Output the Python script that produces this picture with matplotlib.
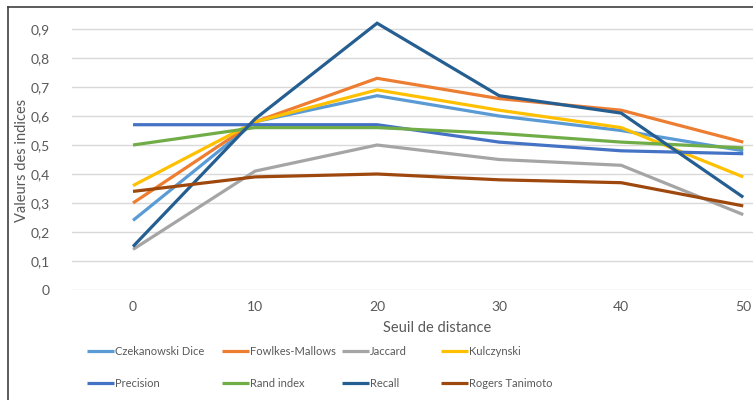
import matplotlib
matplotlib.use('Agg')
import matplotlib.pyplot as plt
from matplotlib.ticker import FuncFormatter, MultipleLocator
from matplotlib.lines import Line2D

plt.rcParams['font.family'] = ['Lato', 'DejaVu Sans']

# Seuil de distance
seuils = [0, 10, 20, 30, 40, 50]

czekanowski = [0.24, 0.58, 0.67, 0.60, 0.55, 0.48]
fowlkes = [0.30, 0.58, 0.73, 0.66, 0.62, 0.51]
jaccard = [0.14, 0.41, 0.50, 0.45, 0.43, 0.26]
kulczynski = [0.36, 0.58, 0.69, 0.62, 0.56, 0.39]
precision = [0.57, 0.57, 0.57, 0.51, 0.48, 0.47]
rand_index = [0.50, 0.56, 0.56, 0.54, 0.51, 0.49]
recall = [0.15, 0.59, 0.92, 0.67, 0.61, 0.32]
rogers = [0.34, 0.39, 0.40, 0.38, 0.37, 0.29]

series = [
    ('Czekanowski Dice', czekanowski, '#5B9BD5'),
    ('Fowlkes-Mallows', fowlkes, '#ED7D31'),
    ('Jaccard', jaccard, '#A5A5A5'),
    ('Kulczynski', kulczynski, '#FFC000'),
    ('Precision', precision, '#4472C4'),
    ('Rand index', rand_index, '#70AD47'),
    ('Recall', recall, '#255E91'),
    ('Rogers Tanimoto', rogers, '#9E480E'),
]

W, H = 753, 400
fig = plt.figure(figsize=(W / 100, H / 100), dpi=100)
ax = fig.add_axes([72 / W, 1 - 290 / H, (W - 72) / W, (290 - 9) / H])

handles = []
for name, vals, col in series:
    ln, = ax.plot(seuils, vals, color=col, lw=2.3, label=name,
                  solid_capstyle='butt', solid_joinstyle='miter')
    handles.append(ln)

ax.set_xlim(-5, 50.8)
ax.set_ylim(0, 0.969)
ax.yaxis.set_major_locator(MultipleLocator(0.1))
ax.yaxis.set_major_formatter(FuncFormatter(
    lambda v, p: ('%g' % round(v, 1)).replace('.', ',')))
ax.set_xticks(seuils)
ax.grid(axis='y', color='#D9D9D9', lw=1)
ax.set_axisbelow(True)
for s in ax.spines.values():
    s.set_visible(False)
ax.tick_params(length=0, labelsize=10, colors='#595959', pad=8)
ax.tick_params(axis='y', pad=16)

fig.text(437 / W, 1 - 328 / H, 'Seuil de distance', ha='center',
         va='center', fontsize=10.5, color='#595959')
fig.text(22 / W, 1 - 160 / H, 'Valeurs des indices', ha='center',
         va='center', rotation=90, fontsize=10.5, color='#595959')

# frame of the chart (cropped at right and bottom)
fig.add_artist(Line2D([8 / W, 8 / W], [0, 1 - 7 / H], color='#404040',
                      lw=1.2, transform=fig.transFigure))
fig.add_artist(Line2D([8 / W, 1], [1 - 7 / H, 1 - 7 / H], color='#404040',
                      lw=1.2, transform=fig.transFigure))

# legend, four columns of two rows
col_x = [87, 222, 342, 441]
for i, x in enumerate(col_x):
    leg = fig.legend(handles=[handles[i], handles[i + 4]],
                     loc='upper left', bbox_to_anchor=(x / W, 1 - 346 / H),
                     frameon=False, handlelength=2.4,
                     handletextpad=0.12, labelspacing=1.9,
                     borderpad=0, borderaxespad=0, labelcolor='#595959',
                     fontsize=8)

fig.savefig('out.png', dpi=100)
